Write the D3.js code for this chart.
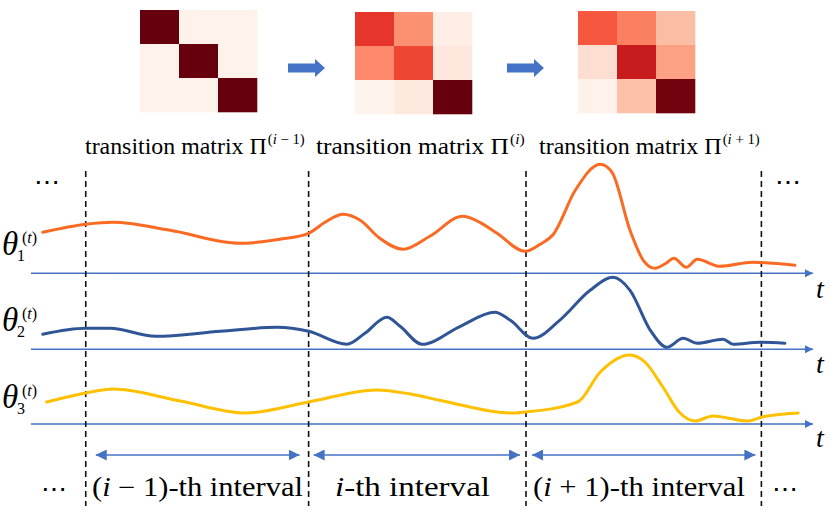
<!DOCTYPE html>
<html><head><meta charset="utf-8">
<script src="https://cdn.jsdelivr.net/npm/d3@7"></script>
<style>
html,body{margin:0;padding:0;background:#fff;}
svg{display:block;}
text{font-family:"Liberation Serif","DejaVu Serif",serif;fill:#000;}
</style></head><body>
<svg id="c" width="831" height="518"></svg>
<script>
// ---------- data ----------
const matrixLabels = ["i\u22121", "i", "i+1"];           // superscripts of Π
const matrixPrev = [[1.00,0.02,0.02],[0.02,1.00,0.02],[0.02,0.02,1.00]];
const matrixCurr = [[0.65,0.38,0.04],[0.40,0.60,0.08],[0.01,0.07,1.00]];
const matrixNext = [[0.55,0.43,0.24],[0.12,0.76,0.33],[0.02,0.23,0.98]];
const boundaries = [7.0, 35.5, 63.3, 93.4];               // interval borders on t
const intervalNames = [["(", "i", " \u2212 1)-th interval"], ["", "i", "-th interval"], ["(", "i", " + 1)-th interval"]];
const theta1 = [[1.5,0.41],[7.0,0.49],[10.5,0.51],[17.8,0.43],[26.7,0.30],[31.8,0.34],[35.5,0.40],[37.6,0.51],[39.9,0.59],[42.1,0.53],[44.6,0.35],[47.6,0.24],[51.0,0.37],[55.2,0.57],[57.4,0.51],[59.6,0.40],[63.2,0.22],[65.1,0.29],[66.8,0.39],[69.6,0.83],[72.8,1.09],[74.3,1.01],[76.6,0.43],[78.3,0.13],[79.8,0.05],[81.2,0.10],[82.2,0.15],[83.8,0.06],[85.2,0.14],[88.1,0.07],[92.3,0.11],[97.7,0.08]];
const theta2 = [[1.5,0.15],[7.0,0.21],[10.1,0.21],[15.9,0.13],[24.2,0.18],[31.5,0.22],[35.5,0.18],[40.4,0.05],[42.7,0.16],[45.5,0.32],[47.2,0.23],[50.0,0.05],[54.9,0.23],[59.3,0.37],[61.3,0.29],[64.2,0.11],[67.6,0.29],[71.5,0.59],[74.4,0.72],[76.6,0.59],[79.2,0.19],[81.3,0.02],[83.4,0.11],[85.2,0.06],[88.5,0.10],[89.8,0.05],[93.2,0.07],[96.4,0.06]];
const theta3 = [[2.0,0.22],[7.0,0.31],[10.5,0.35],[19.1,0.23],[27.4,0.11],[35.5,0.22],[44.2,0.34],[48.5,0.30],[52.7,0.23],[61.3,0.11],[63.2,0.12],[69.9,0.22],[72.8,0.52],[76.6,0.69],[78.5,0.62],[80.8,0.37],[83.0,0.11],[84.9,0.03],[87.2,0.08],[91.6,0.03],[93.5,0.07],[98.1,0.11]];
const seriesColors = ["#fb6a23", "#2f5597", "#ffc000"];

// ---------- drawing ----------
const svg = d3.select("#c");
const blue = "#4472c4";
const defs = svg.append("defs");
defs.append("marker").attr("id","ah").attr("viewBox","0 0 10 10").attr("refX",10).attr("refY",5)
  .attr("markerWidth",10).attr("markerHeight",8).attr("markerUnits","userSpaceOnUse").attr("orient","auto-start-reverse")
  .append("path").attr("d","M0,0L10,5L0,10Z").attr("fill",blue);
defs.append("marker").attr("id","ah2").attr("viewBox","0 0 10 10").attr("refX",10).attr("refY",5)
  .attr("markerWidth",11).attr("markerHeight",11).attr("markerUnits","userSpaceOnUse").attr("orient","auto-start-reverse")
  .append("path").attr("d","M0,0L10,5L0,10Z").attr("fill",blue);

const x = d3.scaleLinear().domain([0,100]).range([31,813]);
const color = d3.scaleSequential(d3.interpolateReds).domain([0,1]);

// matrices
const mats = [matrixPrev, matrixCurr, matrixNext];
const matBox = [{x:140,y:10},{x:355,y:12},{x:578,y:11}];
const mw = 117, mh = 102;
mats.forEach((m,k)=>{
  const cx = d3.scaleBand().domain([0,1,2]).range([matBox[k].x, matBox[k].x+mw]);
  const cy = d3.scaleBand().domain([0,1,2]).range([matBox[k].y, matBox[k].y+mh]);
  const g = svg.append("g");
  m.forEach((row,i)=>row.forEach((v,j)=>{
    g.append("rect").attr("x",cx(j)).attr("y",cy(i)).attr("width",cx.bandwidth()+0.3).attr("height",cy.bandwidth()+0.3)
     .attr("fill",color(v));
  }));
});
// block arrows between matrices
[[288,325],[507,544]].forEach(([a,b])=>{
  const hy=68, hs=4.5, hh=9, hl=10;
  svg.append("path").attr("fill",blue)
    .attr("d",`M${a},${hy-hs}L${b-hl},${hy-hs}L${b-hl},${hy-hh}L${b},${hy}L${b-hl},${hy+hh}L${b-hl},${hy+hs}L${a},${hy+hs}Z`);
});

// fit helper: horizontally scale a text so it spans a target width (CM-like widths)
function fit(sel, x0, w){
  const bw = sel.node().getBBox().width;
  const s = Math.max(0.85, Math.min(1.25, w / bw));
  sel.attr("transform", `translate(${x0},0) scale(${s},1) translate(${-x0},0)`);
}

// titles
const titleX = [85, 316, 539], titleW = [220, 209, 221];
matrixLabels.forEach((lab,k)=>{
  const t = svg.append("text").attr("x",titleX[k]).attr("y",154).attr("font-size",23.5);
  t.append("tspan").text("transition matrix \u03A0");
  const sup = t.append("tspan").attr("font-size",14.5).attr("dy",-10).attr("dx",1);
  sup.append("tspan").text("(");
  sup.append("tspan").attr("font-style","italic").text("i");
  if(lab.length>1){ sup.append("tspan").text(lab.slice(1).replace("\u2212"," \u2212 ").replace("+"," + ")); }
  sup.append("tspan").text(")");
  fit(t, titleX[k], titleW[k]);
});

// axes
const bases = [273.3, 349.3, 424];
bases.forEach((b,k)=>{
  svg.append("line").attr("x1",x(0)).attr("x2",x(100)).attr("y1",b).attr("y2",b)
    .attr("stroke",blue).attr("stroke-width",1.5).attr("marker-end","url(#ah)");
  svg.append("text").attr("x",816).attr("y",[298,373,447][k]).attr("font-size",28)
    .attr("font-style","italic").text("t");
});

// dashed boundaries
boundaries.forEach(bd=>{
  svg.append("line").attr("x1",x(bd)).attr("x2",x(bd)).attr("y1",171).attr("y2",506)
    .attr("stroke","#111").attr("stroke-width",1.6).attr("stroke-dasharray","6,4");
});

// series
[theta1,theta2,theta3].forEach((s,k)=>{
  const y = d3.scaleLinear().domain([0,1]).range([bases[k], bases[k]-100]);
  const line = d3.line().x(d=>x(d[0])).y(d=>y(d[1])).curve(d3.curveMonotoneX);
  svg.append("path").datum(s).attr("d",line).attr("fill","none")
    .attr("stroke",seriesColors[k]).attr("stroke-width",3).attr("stroke-linecap","round").attr("stroke-linejoin","round");
});

// theta labels
const thetaBase = [255, 331, 408];
thetaBase.forEach((b,k)=>{
  svg.append("text").attr("x",2).attr("y",b).attr("font-size",33).attr("font-style","italic").text("\u03B8");
  svg.append("text").attr("x",17).attr("y",b+6).attr("font-size",16).text(String(k+1));
  const s = svg.append("text").attr("x",22).attr("y",b-12).attr("font-size",16);
  s.append("tspan").text("(");
  s.append("tspan").attr("font-style","italic").text("t");
  s.append("tspan").text(")");
});

// interval arrows
for(let k=0;k<3;k++){
  const a = x(boundaries[k]) + [10,5,6][k], b = x(boundaries[k+1]) - [9,6,6][k];
  svg.append("line").attr("x1",a).attr("x2",b).attr("y1",455).attr("y2",455)
    .attr("stroke",blue).attr("stroke-width",1.5)
    .attr("marker-start","url(#ah2)").attr("marker-end","url(#ah2)");
}
// interval labels
const labX = [92, 335, 533], labW = [211, 155, 212];
intervalNames.forEach((parts,k)=>{
  const t = svg.append("text").attr("x",labX[k]).attr("y",496).attr("font-size",26.5);
  t.append("tspan").text(parts[0]);
  t.append("tspan").attr("font-style","italic").text(parts[1]);
  t.append("tspan").text(parts[2]);
  fit(t, labX[k], labW[k]);
});

// ellipses
[[34,191],[775,191],[41,498],[772,498]].forEach(([ex,ey])=>{
  svg.append("text").attr("x",ex).attr("y",ey).attr("font-size",26).attr("font-family","DejaVu Serif").text("\u22EF");
});
</script>
</body></html>
